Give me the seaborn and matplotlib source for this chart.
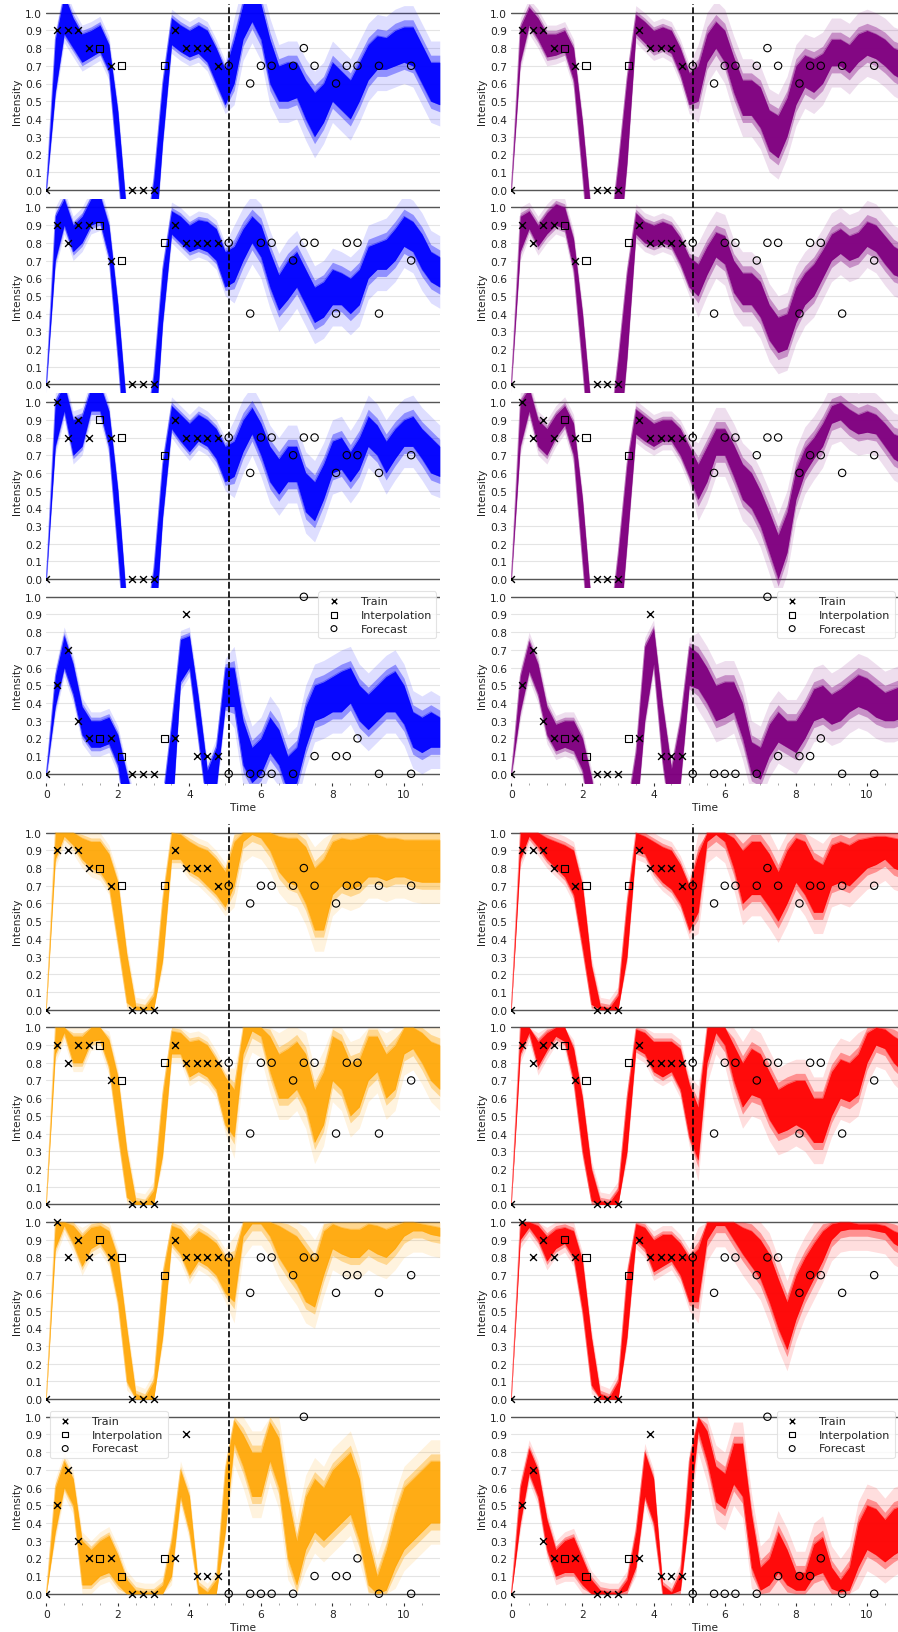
import numpy as np
import pandas as pd
import seaborn as sns
import matplotlib
matplotlib.use('Agg')
import matplotlib.pyplot as plt

# time grid the sampled curves were read on
T_CURVE = [0.0, 0.25, 0.5, 0.75, 1.0, 1.25, 1.5, 1.75, 2.0, 2.25, 2.5, 2.75, 3.0, 3.25, 3.5, 3.75,
           4.0, 4.25, 4.5, 4.75, 5.0, 5.25, 5.5, 5.75, 6.0, 6.25, 6.5, 6.75, 7.0, 7.25, 7.5, 7.75,
           8.0, 8.25, 8.5, 8.75, 9.0, 9.25, 9.5, 9.75, 10.0, 10.25, 10.5, 10.75, 11.0]

# observation markers (same for every model, one list per row)
TRAIN_T = [0.0, 0.3, 0.6, 0.9, 1.2, 1.8, 2.4, 2.7, 3.0, 3.6, 3.9, 4.2, 4.5, 4.8]
INTERP_T = [1.5, 2.1, 3.3]
FORECAST_T = [5.1, 5.7, 6.0, 6.3, 6.9, 7.2, 7.5, 8.1, 8.4, 8.7, 9.3, 10.2]

TRAIN_Y = [
    [0, .9, .9, .9, .8, .7, 0, 0, 0, .9, .8, .8, .8, .7],
    [0, .9, .8, .9, .9, .7, 0, 0, 0, .9, .8, .8, .8, .8],
    [0, 1.0, .8, .9, .8, .8, 0, 0, 0, .9, .8, .8, .8, .8],
    [0, .5, .7, .3, .2, .2, 0, 0, 0, .2, .9, .1, .1, .1],
]
INTERP_Y = [[.8, .7, .7], [.9, .7, .8], [.9, .8, .7], [.2, .1, .2]]
FORECAST_Y = [
    [.7, .6, .7, .7, .7, .8, .7, .6, .7, .7, .7, .7],
    [.8, .4, .8, .8, .7, .8, .8, .4, .8, .8, .4, .7],
    [.8, .6, .8, .8, .7, .8, .8, .6, .7, .7, .6, .7],
    [0, 0, 0, 0, 0, 1.0, .1, .1, .1, .2, 0, 0],
]
SPLIT_T = 5.1

# dense part of the sample bundle, lower / upper edge, per model and row
BLUE_LO = [
    [0, .55, .88, .8, .72, .75, .78, .67, .11, -.5, -.6, -.6, -.4, .27, .82, .78, .75, .77, .72, .6, .48, .6,
     .85, .95, .85, .6, .5, .5, .52, .4, .3, .38, .5, .45, .4, .5, .62, .68, .68, .7, .72, .7, .6, .5, .48],
    [0, .7, .9, .75, .8, .9, .92, .72, .15, -.5, -.6, -.6, -.4, .35, .85, .8, .75, .77, .75, .7, .55, .58,
     .7, .8, .72, .55, .42, .48, .55, .45, .35, .38, .45, .45, .4, .45, .6, .65, .65, .7, .78, .75, .65, .58, .55],
    [0, .75, .95, .7, .75, .95, .95, .75, .15, -.5, -.6, -.6, -.4, .35, .85, .78, .72, .78, .75, .68, .55, .58,
     .72, .82, .7, .55, .48, .55, .55, .38, .33, .45, .6, .62, .55, .62, .75, .7, .6, .68, .75, .75, .68, .6, .58],
    [0, .38, .6, .45, .22, .15, .15, .17, .05, -.3, -.5, -.5, -.5, -.4, -.28, .52, .6, .2, -.2, -.08, .38, .38,
     .05, -.05, 0, .12, .05, -.1, -.05, .15, .3, .32, .35, .35, .4, .3, .25, .3, .35, .35, .28, .15, .12, .15, .15],
]
BLUE_HI = [
    [0, .85, 1.1, .97, .88, .9, .93, .82, .44, -.15, -.3, -.3, .05, .6, .97, .93, .9, .93, .9, .8, .68, .85,
     1.05, 1.1, 1.05, .85, .7, .72, .72, .62, .55, .6, .72, .67, .62, .72, .82, .87, .86, .9, .92, .92, .82, .72, .72],
    [0, .95, 1.05, .9, .95, 1.05, 1.07, .9, .45, -.15, -.3, -.3, .05, .65, .98, .95, .9, .93, .92, .88, .75, .78,
     .88, .95, .9, .75, .62, .7, .75, .65, .55, .58, .65, .63, .6, .65, .78, .8, .82, .88, .95, .92, .85, .75, .72],
    [0, 1.0, 1.1, .9, .92, 1.08, 1.1, .95, .5, -.15, -.3, -.3, .05, .65, .98, .93, .88, .93, .9, .85, .75, .78,
     .9, .97, .88, .75, .68, .75, .75, .6, .55, .65, .78, .8, .72, .8, .92, .87, .78, .85, .9, .92, .85, .8, .75],
    [0, .55, .78, .62, .38, .3, .3, .32, .22, 0, -.2, -.3, -.3, -.15, .28, .76, .78, .43, .02, .15, .6, .6,
     .3, .15, .2, .32, .25, .1, .15, .38, .5, .52, .55, .58, .6, .5, .45, .5, .55, .58, .5, .35, .32, .35, .32],
]
PURPLE_LO = [
    [0, .72, .93, .85, .75, .76, .78, .62, .08, -.5, -.6, -.6, -.4, .15, .88, .83, .78, .8, .77, .65, .48, .5,
     .72, .8, .72, .55, .42, .42, .35, .22, .18, .3, .48, .58, .55, .6, .7, .7, .66, .72, .76, .74, .7, .65, .62],
    [0, .75, .88, .78, .85, .9, .88, .65, .1, -.5, -.6, -.6, -.4, .15, .85, .8, .78, .8, .78, .68, .55, .5,
     .62, .72, .68, .52, .45, .45, .38, .25, .18, .2, .35, .45, .5, .6, .7, .74, .7, .72, .78, .75, .68, .62, .6],
    [0, .75, .95, .75, .7, .8, .87, .7, .1, -.5, -.6, -.6, -.4, .2, .82, .78, .75, .78, .78, .7, .58, .45,
     .55, .7, .7, .58, .45, .4, .3, .15, 0, .15, .45, .6, .68, .75, .88, .9, .85, .82, .83, .82, .75, .68, .65],
    [0, .35, .58, .45, .22, .13, .15, .13, .02, -.3, -.5, -.5, -.5, -.4, -.28, .3, .62, .07, -.3, -.05, .5, .48,
     .4, .3, .32, .35, .2, 0, -.03, .1, .18, .15, .12, .2, .3, .32, .28, .3, .35, .38, .36, .32, .3, .3, .32],
]
PURPLE_HI = [
    [0, .92, 1.03, .97, .88, .88, .9, .8, .38, -.15, -.3, -.3, .14, .63, .99, .95, .9, .92, .9, .8, .66, .7,
     .88, .95, .9, .75, .62, .62, .58, .45, .42, .52, .7, .76, .74, .77, .85, .85, .82, .88, .9, .88, .85, .8, .78],
    [0, .95, .98, .9, .97, 1.02, 1.0, .82, .4, -.15, -.3, -.3, .14, .63, .97, .92, .9, .92, .9, .83, .72, .68,
     .78, .86, .84, .7, .63, .63, .58, .45, .38, .4, .55, .63, .68, .76, .85, .88, .84, .86, .92, .9, .84, .78, .75],
    [0, 1.0, 1.08, .9, .85, .93, .98, .88, .45, -.15, -.3, -.3, .14, .65, .96, .92, .88, .9, .9, .85, .75, .65,
     .75, .85, .85, .76, .65, .6, .5, .38, .25, .38, .62, .74, .8, .88, .98, 1.0, .96, .93, .95, .93, .88, .82, .8],
    [0, .55, .75, .62, .38, .28, .3, .3, .2, -.02, -.3, -.3, -.3, -.2, .12, .72, .82, .39, .03, .3, .72, .68,
     .6, .5, .52, .52, .4, .18, .15, .28, .35, .3, .3, .38, .48, .5, .45, .48, .52, .56, .54, .5, .46, .48, .5],
]
ORANGE_LO = [
    [0, .85, .98, .93, .85, .8, .78, .7, .38, .04, 0, 0, 0, .28, .85, .85, .78, .75, .7, .65, .58, .7,
     .95, .99, .97, .9, .78, .72, .7, .6, .45, .45, .65, .7, .68, .7, .75, .75, .73, .75, .75, .73, .72, .72, .72],
    [0, .85, .97, .8, .8, .92, .93, .78, .4, .04, 0, 0, 0, .28, .85, .85, .72, .75, .72, .65, .45, .38,
     .85, .98, .95, .75, .6, .6, .65, .55, .35, .45, .7, .65, .5, .55, .7, .75, .6, .65, .85, .88, .8, .7, .65],
    [0, .85, .98, .88, .75, .85, .88, .8, .55, .1, 0, 0, 0, .35, .88, .82, .7, .78, .75, .7, .6, .55,
     .92, .99, .99, .92, .8, .72, .65, .55, .52, .7, .85, .82, .8, .8, .85, .82, .8, .85, .92, .95, .95, .93, .92],
    [0, .35, .6, .5, .05, .05, .1, .12, .05, 0, 0, 0, 0, 0, .1, .55, .35, 0, 0, 0, .35, .85,
     .72, .55, .55, .75, .6, .2, .05, .25, .35, .3, .35, .4, .45, .3, .05, 0, .02, .15, .25, .3, .35, .4, .4],
]
ORANGE_HI = [
    [0, 1.0, 1.0, 1.0, .97, .95, .95, .88, .72, .31, .02, .01, .08, .62, 1.0, .99, .95, .92, .9, .85, .78, .95,
     1.0, 1.0, 1.0, 1.0, .98, .97, .97, .92, .8, .85, .95, .97, .96, .97, .99, .99, .97, .97, .96, .96, .96, .96, .96],
    [0, 1.0, 1.0, .95, .95, 1.0, 1.0, .93, .72, .3, .02, .01, .08, .62, .98, .97, .92, .93, .9, .82, .72, .65,
     1.0, 1.0, 1.0, .95, .85, .88, .92, .85, .65, .75, .95, .92, .8, .82, .95, .95, .85, .9, 1.0, 1.0, .97, .92, .9],
    [0, 1.0, 1.0, .98, .92, .97, .98, .95, .8, .4, .03, .01, .1, .7, .98, .96, .9, .95, .92, .88, .8, .8,
     1.0, 1.0, 1.0, 1.0, .98, .95, .92, .85, .78, .95, .99, .97, .96, .96, .99, .98, .96, .98, 1.0, 1.0, .99, .98, .97],
    [0, .6, .75, .65, .3, .25, .3, .33, .22, .08, .02, .01, .01, .05, .3, .7, .55, .05, .01, .08, .7, .98,
     .9, .8, .8, .97, .88, .55, .3, .55, .65, .6, .7, .75, .8, .65, .3, .1, .25, .45, .6, .65, .7, .75, .75],
]
RED_LO = [
    [0, .85, .98, .92, .85, .8, .75, .65, .35, .03, 0, 0, 0, .3, .9, .88, .78, .72, .68, .6, .45, .55,
     .95, .99, .95, .8, .6, .65, .65, .58, .5, .6, .72, .65, .55, .55, .7, .72, .7, .75, .8, .82, .85, .8, .78],
    [0, .85, .97, .78, .87, .95, .92, .7, .3, .02, 0, 0, 0, .3, .88, .85, .75, .72, .75, .65, .38, .25,
     .8, .97, .9, .7, .55, .62, .6, .48, .4, .42, .45, .42, .35, .35, .5, .6, .58, .62, .8, .9, .88, .8, .75],
    [0, .9, .97, .9, .78, .85, .88, .8, .5, .08, 0, 0, 0, .35, .9, .85, .72, .75, .78, .7, .55, .55,
     .9, .98, .98, .9, .82, .75, .68, .55, .4, .28, .45, .58, .68, .78, .9, .95, .96, .96, .96, .95, .94, .88, .85],
    [0, .4, .68, .55, .25, .1, .12, .12, .05, 0, 0, 0, 0, .02, .15, .55, .4, 0, 0, .02, .45, .92,
     .75, .52, .48, .62, .55, .15, .02, .05, .12, .05, .02, .02, .1, .12, .03, .01, .02, .15, .25, .22, .18, .22, .25],
]
RED_HI = [
    [0, 1.0, 1.0, 1.0, .97, .95, .93, .9, .7, .25, .02, .01, .08, .6, 1.0, .98, .95, .92, .9, .82, .7, .88,
     1.0, 1.0, 1.0, .97, .9, .95, .95, .88, .78, .9, .97, .95, .85, .82, .93, .95, .93, .96, .97, .98, .98, .97, .96],
    [0, 1.0, 1.0, .92, .97, 1.0, 1.0, .88, .6, .2, .02, .01, .08, .6, .99, .97, .92, .92, .92, .88, .68, .55,
     1.0, 1.0, 1.0, .9, .8, .88, .85, .75, .65, .68, .7, .7, .6, .6, .75, .82, .8, .85, .97, 1.0, .99, .95, .92],
    [0, 1.0, 1.0, .98, .92, .96, .97, .95, .78, .35, .03, .01, .1, .7, .99, .97, .9, .93, .93, .88, .8, .85,
     1.0, 1.0, 1.0, 1.0, .97, .95, .9, .82, .68, .55, .7, .8, .88, .95, .99, 1.0, 1.0, .99, .99, .99, .98, .95, .93],
    [0, .6, .82, .7, .42, .25, .3, .32, .2, .08, .02, .01, .01, .08, .35, .8, .65, .05, .01, .12, .75, 1.0,
     .92, .72, .68, .85, .85, .45, .15, .2, .35, .25, .12, .12, .28, .32, .15, .08, .15, .4, .5, .48, .42, .48, .5],
]

# figure geometry in pixels (reference is four stacked-panel images side by side)
FIG_W, FIG_H = 898, 1633
PANEL_H = 194.7

sns.set_theme(style="white")
plt.rcParams['font.family'] = ['DejaVu Sans']

models = [
    # color, lo, hi, left px, right xlim, top px, bounded to [0, 1], legend position, core alpha
    ("#0000ff", BLUE_LO, BLUE_HI, 46.3, 11.0, 4.85, False, "upper right", 0.95),
    ("#800080", PURPLE_LO, PURPLE_HI, 511.3, 10.87, 4.85, False, "upper right", 0.95),
    ("#ffa500", ORANGE_LO, ORANGE_HI, 46.3, 11.0, 824.8, True, "upper left", 0.85),
    ("#ff0000", RED_LO, RED_HI, 511.3, 10.87, 824.8, True, "upper right", 0.92),
]

fig = plt.figure(figsize=(FIG_W / 100, FIG_H / 100), dpi=100)
t = np.array(T_CURVE)

for color, lo_rows, hi_rows, left_px, xmax, top_px, bounded, leg_loc, core_alpha in models:
    width_px = 35.77 * xmax if xmax == 11.0 else FIG_W - left_px
    for row in range(4):
        y_top = top_px + row * PANEL_H
        ax = fig.add_axes([left_px / FIG_W, 1 - (y_top + PANEL_H) / FIG_H,
                           width_px / FIG_W, PANEL_H / FIG_H])
        lo = np.array(lo_rows[row])
        hi = np.array(hi_rows[row])

        # faint outliers and a softer fringe around the dense bundle
        for pad_train, pad_fore, alpha in [(0.05, 0.12, 0.13), (0.02, 0.04, 0.35)]:
            pad = np.where(t < SPLIT_T, pad_train, pad_fore)
            out_lo, out_hi = lo - pad, hi + pad
            if bounded:
                out_lo, out_hi = np.clip(out_lo, 0, 1), np.clip(out_hi, 0, 1)
            ax.fill_between(t, out_lo, out_hi, color=color, alpha=alpha, lw=0, zorder=2)
        ax.fill_between(t, lo, hi, color=color, alpha=core_alpha, lw=0, zorder=3)
        sns.lineplot(x=t, y=lo, color=color, lw=0.6, alpha=0.4, ax=ax, zorder=3)
        sns.lineplot(x=t, y=hi, color=color, lw=0.6, alpha=0.4, ax=ax, zorder=3)

        ax.axhline(0, color='#555555', lw=1.0, zorder=1.5)
        ax.axhline(1, color='#555555', lw=1.0, zorder=1.5)
        ax.axvline(SPLIT_T, color='black', ls='--', lw=1.2, zorder=4)

        sns.scatterplot(x=TRAIN_T, y=TRAIN_Y[row], marker='x', color='black', s=24,
                        linewidth=1.0, label='Train', ax=ax, zorder=5)
        sns.scatterplot(x=INTERP_T, y=INTERP_Y[row], marker='s', facecolor='none',
                        edgecolor='black', s=26, linewidth=0.8, label='Interpolation', ax=ax, zorder=5)
        sns.scatterplot(x=FORECAST_T, y=FORECAST_Y[row], marker='o', facecolor='none',
                        edgecolor='black', s=28, linewidth=0.8, label='Forecast', ax=ax, zorder=5)

        ax.set_xlim(0, xmax)
        ax.set_ylim(-0.05, 1.05)
        ax.set_yticks(np.round(np.arange(0, 1.01, 0.1), 1))
        ax.set_yticklabels([f"{v:.1f}" for v in np.arange(0, 1.01, 0.1)])
        ax.yaxis.grid(True, color='#e4e4e4', lw=0.8, zorder=0)
        ax.set_axisbelow(True)
        ax.tick_params(axis='y', length=0, pad=3, labelsize=7.7, labelcolor='#222222')
        for sp in ax.spines.values():
            sp.set_visible(False)
        ax.set_ylabel('Intensity', fontsize=7.7, labelpad=2, color='#222222')

        if row == 3:
            ax.set_xticks([0, 2, 4, 6, 8, 10])
            ax.set_xticks(np.arange(0.5, xmax, 0.5), minor=True)
            ax.tick_params(axis='x', which='major', length=2.5, width=0.8, color='#333333',
                           pad=2, labelsize=7.7, labelcolor='#222222', bottom=True)
            ax.tick_params(axis='x', which='minor', length=1.5, width=0.6, color='#999999', bottom=True)
            ax.set_xlabel('Time', fontsize=7.7, labelpad=2, color='#222222')
            leg = ax.legend(loc=leg_loc, fontsize=8, markerscale=0.8, frameon=True,
                            borderaxespad=0.3, handletextpad=1.4, labelspacing=0.35)
            leg.get_frame().set_edgecolor('#dddddd')
            leg.get_frame().set_linewidth(0.8)
        else:
            ax.set_xticks([])
            ax.set_xlabel('')
            ax.get_legend().remove()

fig.savefig('out.png', dpi=100)
